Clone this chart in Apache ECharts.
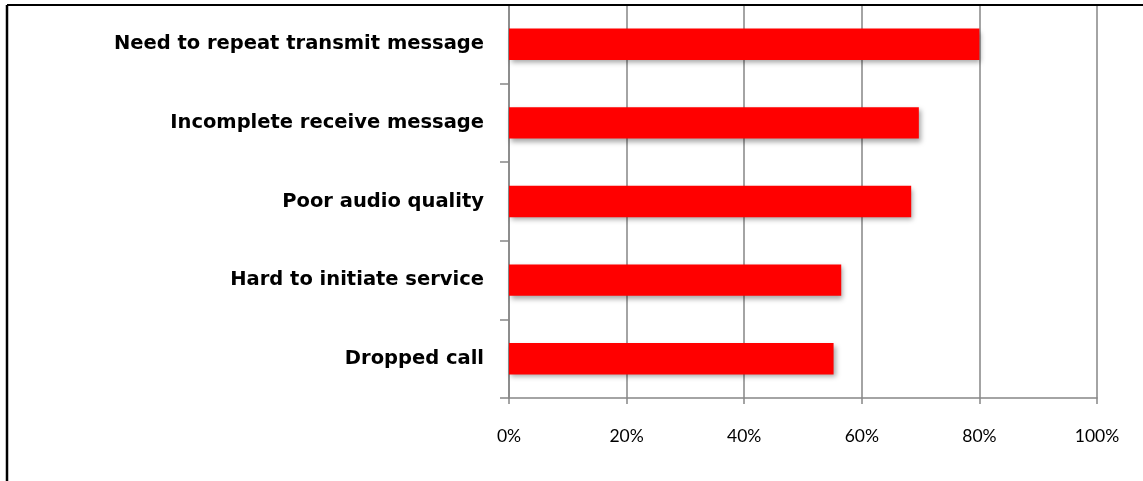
<!DOCTYPE html>
<html>
<head>
<meta charset="utf-8">
<script src="https://cdn.jsdelivr.net/npm/echarts@6/dist/echarts.min.js"></script>
<style>
html,body{margin:0;padding:0;background:#fff;}
#chart{width:1143px;height:481px;}
</style>
</head>
<body>
<div id="chart"></div>
<script>
const categories = [
  "Need to repeat transmit message",
  "Incomplete receive message",
  "Poor audio quality",
  "Hard to initiate service",
  "Dropped call"
];
const values = [0.80, 0.697, 0.684, 0.565, 0.552];
const xTicks = [0, 0.2, 0.4, 0.6, 0.8, 1.0];

const chart = echarts.init(document.getElementById('chart'), null, {renderer: 'canvas'});
chart.setOption({
  animation: false,
  backgroundColor: '#ffffff',
  grid: {left: 509, right: 46, top: 5, bottom: 83, containLabel: false},
  xAxis: {
    type: 'value', min: xTicks[0], max: xTicks[xTicks.length - 1], interval: 0.2,
    axisLine: {show: true, lineStyle: {color: '#868686', width: 1.5}},
    axisTick: {show: true, length: 6, lineStyle: {color: '#868686', width: 1.5}},
    splitLine: {show: true, lineStyle: {color: '#868686', width: 1.5}},
    axisLabel: {
      formatter: v => Math.round(v * 100) + '%',
      fontFamily: 'Lato', fontSize: 17.5, color: '#000', margin: 29
    }
  },
  yAxis: {
    type: 'category', data: categories, inverse: true,
    axisLine: {show: true, lineStyle: {color: '#868686', width: 1.5}},
    axisTick: {show: true, length: 9, lineStyle: {color: '#868686', width: 1.5}},
    axisLabel: {fontFamily: 'DejaVu Sans', fontWeight: 'bold', fontSize: 19.5, color: '#000', margin: 25}
  },
  series: [{
    type: 'bar', data: values, barCategoryGap: '60%',
    itemStyle: {color: '#ff0000', shadowColor: 'rgba(0,0,0,0.35)', shadowBlur: 5, shadowOffsetX: 2, shadowOffsetY: 3}
  }],
  graphic: [
    {type: 'line', shape: {x1: 7, y1: 5, x2: 1143, y2: 5}, style: {stroke: '#000', lineWidth: 2}, z: 100},
    {type: 'line', shape: {x1: 7, y1: 5, x2: 7, y2: 481}, style: {stroke: '#000', lineWidth: 2.5}, z: 100}
  ]
});
</script>
</body>
</html>
